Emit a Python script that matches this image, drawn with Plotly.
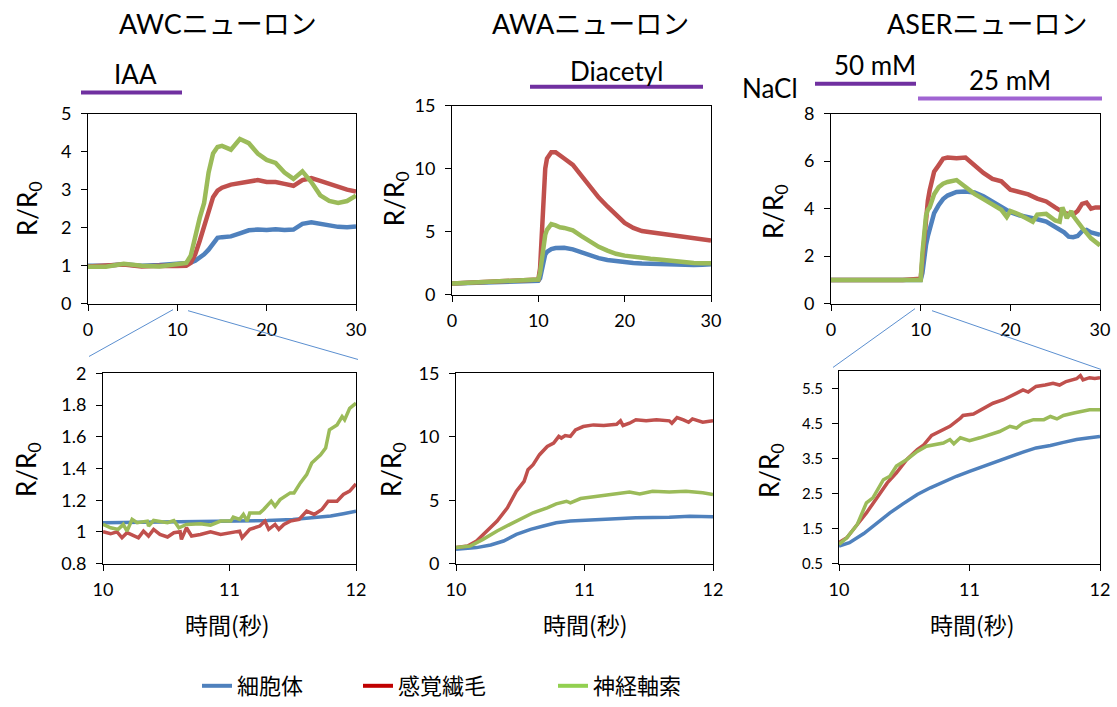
import plotly.graph_objects as go

W, H = 1117, 707

# ---------------- DATA ----------------
# AWC (0-30 s)
awc_t = [0, 2, 4, 6, 8, 10, 11, 11.5, 12, 12.5, 13, 13.5, 14, 14.5, 15, 16, 17, 18, 19, 20,
         21, 22, 23, 24, 25, 26, 27, 28, 29, 30]
awc_soma = [1.0, 1.0, 1.04, 1.0, 1.02, 1.05, 1.06, 1.08, 1.13, 1.2, 1.3, 1.42, 1.6, 1.73, 1.75,
            1.77, 1.85, 1.93, 1.95, 1.94, 1.96, 1.94, 1.95, 2.1, 2.14, 2.1, 2.05, 2.02, 2.01, 2.03]
awc_cilia = [0.98, 1.0, 1.03, 0.98, 1.0, 0.99, 1.0, 1.07, 1.3, 1.65, 2.05, 2.5, 2.8, 2.97, 3.05,
             3.13, 3.18, 3.22, 3.25, 3.2, 3.2, 3.15, 3.1, 3.25, 3.3, 3.23, 3.15, 3.08, 3.0, 2.95]
awc_axon = [0.97, 0.97, 1.05, 1.0, 0.98, 1.05, 1.07, 1.26, 1.8, 2.25, 2.65, 3.45, 3.95, 4.12, 4.15,
            4.05, 4.33, 4.22, 3.95, 3.78, 3.7, 3.45, 3.28, 3.48, 3.2, 2.85, 2.7, 2.65, 2.7, 2.84]

# AWA (0-30 s)
awa_t = [0, 2, 4, 6, 8, 10, 10.2, 10.4, 10.6, 10.8, 11, 11.5, 12, 12.5, 13, 14, 15, 16, 17, 18,
         19, 20, 21, 22, 23, 24, 25, 26, 27, 28, 29, 30]
awa_soma = [0.9, 0.95, 1.0, 1.03, 1.07, 1.1, 1.3, 2.0, 2.75, 3.2, 3.4, 3.62, 3.7, 3.72, 3.72, 3.6,
            3.35, 3.1, 2.9, 2.75, 2.65, 2.58, 2.52, 2.48, 2.45, 2.42, 2.38, 2.36, 2.35, 2.35, 2.38, 2.42]
awa_cilia = [0.9, 0.95, 1.0, 1.05, 1.1, 1.2, 2.1, 4.4, 7.8, 10.0, 10.8, 11.3, 11.3, 11.1, 10.8, 10.3,
             9.4, 8.5, 7.7, 7.0, 6.4, 5.7, 5.3, 5.05, 4.95, 4.85, 4.75, 4.65, 4.55, 4.5, 4.4, 4.3]
awa_axon = [0.9, 0.95, 1.0, 1.05, 1.1, 1.2, 1.75, 3.0, 4.0, 4.75, 5.15, 5.6, 5.5, 5.35, 5.3, 5.1,
            4.65, 4.2, 3.8, 3.5, 3.25, 3.1, 3.0, 2.95, 2.85, 2.8, 2.72, 2.65, 2.58, 2.52, 2.5, 2.5]

# ASER (0-30 s)
aser_soma_t = [0, 10, 10.2, 10.4, 10.6, 10.8, 11, 11.5, 12, 12.5, 13, 14, 15, 16, 17, 18, 19, 20,
               21, 22, 23, 24, 25, 26, 26.5, 27, 27.5, 28, 28.5, 29, 30]
aser_soma = [1.0, 1.0, 1.3, 1.95, 2.48, 2.84, 3.14, 3.81, 4.14, 4.4, 4.55, 4.7, 4.72, 4.68, 4.52,
             4.3, 4.1, 3.85, 3.72, 3.65, 3.55, 3.45, 3.25, 3.0, 2.82, 2.8, 2.85, 3.05, 3.1, 3.0, 2.9]
aser_cilia_t = [0, 2, 4, 6, 8, 10, 10.2, 10.4, 10.6, 10.8, 11, 11.5, 12, 12.5, 13, 14, 15, 16, 17,
                18, 19, 20, 21, 22, 23, 24, 25, 26, 26.5, 27, 27.5, 28, 28.5, 29, 29.5, 30]
aser_cilia = [1.0, 1.0, 1.0, 0.98, 1.0, 1.05, 1.85, 2.95, 3.76, 4.33, 4.76, 5.55, 5.82, 6.1, 6.15,
              6.12, 6.15, 5.8, 5.5, 5.25, 5.15, 4.8, 4.72, 4.6, 4.42, 4.3, 4.05, 3.82, 3.78, 3.75,
              3.9, 4.2, 4.25, 4.0, 4.05, 4.05]
aser_axon_t = [0, 2, 4, 6, 8, 10, 10.2, 10.4, 10.6, 10.8, 11, 11.5, 12, 12.5, 13, 14, 15, 16, 17,
               18, 19, 19.6, 20, 21, 22, 22.5, 23, 24, 25, 25.5, 25.8, 26.3, 26.8, 27, 28, 29, 30]
aser_axon = [1.0, 1.0, 1.0, 1.02, 1.0, 1.0, 2.15, 3.05, 3.71, 3.95, 4.05, 4.6, 4.9, 5.05, 5.12,
             5.2, 4.9, 4.62, 4.4, 4.15, 3.95, 3.65, 3.9, 3.75, 3.55, 3.45, 3.75, 3.78, 3.5, 3.45,
             4.05, 3.6, 3.9, 3.7, 3.2, 2.75, 2.45]

# AWC zoom (10-12 s)
awcz_soma_t = [10, 10.5, 11, 11.3, 11.5, 11.7, 11.8, 11.9, 12]
awcz_soma = [1.058, 1.062, 1.068, 1.072, 1.079, 1.09, 1.10, 1.115, 1.13]
awcz_cilia_t = [10.00, 10.06, 10.11, 10.15, 10.19, 10.24, 10.28, 10.32, 10.36, 10.40, 10.45, 10.51,
                10.56, 10.61, 10.62, 10.66, 10.70, 10.77, 10.85, 10.93, 11.01, 11.08, 11.10, 11.16,
                11.24, 11.28, 11.31, 11.36, 11.39, 11.43, 11.48, 11.55, 11.61, 11.67, 11.73, 11.78,
                11.85, 11.90, 11.95, 12.00]
awcz_cilia = [1.001, 0.988, 1.001, 0.963, 0.995, 0.980, 0.963, 1.005, 0.974, 1.016, 0.984, 0.968,
              0.995, 1.001, 0.953, 1.026, 0.974, 0.984, 1.001, 0.984, 0.995, 1.005, 0.963, 1.016,
              1.037, 1.068, 1.016, 1.047, 1.016, 1.047, 1.068, 1.079, 1.131, 1.110, 1.141, 1.194,
              1.194, 1.236, 1.257, 1.303]
awcz_axon_t = [10.00, 10.06, 10.12, 10.16, 10.19, 10.23, 10.27, 10.35, 10.36, 10.40, 10.51, 10.56,
               10.60, 10.66, 10.77, 10.85, 10.93, 11.01, 11.03, 11.08, 11.11, 11.14, 11.16, 11.24,
               11.27, 11.33, 11.36, 11.40, 11.48, 11.51, 11.56, 11.61, 11.65, 11.72, 11.76, 11.79,
               11.85, 11.89, 11.91, 11.95, 12.00]
awcz_axon = [1.047, 1.026, 1.016, 1.047, 1.005, 1.079, 1.058, 1.068, 1.037, 1.072, 1.058, 1.072,
             1.026, 1.047, 1.051, 1.043, 1.068, 1.068, 1.093, 1.079, 1.110, 1.068, 1.120, 1.120,
             1.141, 1.194, 1.162, 1.204, 1.246, 1.246, 1.309, 1.361, 1.435, 1.487, 1.529, 1.644,
             1.675, 1.728, 1.707, 1.780, 1.812]

# AWA zoom (10-12 s)
awaz_soma_t = [10.00, 10.16, 10.27, 10.37, 10.47, 10.58, 10.68, 10.78, 10.89, 11.02, 11.20, 11.40,
               11.66, 11.82, 12.00]
awaz_soma = [1.13, 1.26, 1.47, 1.78, 2.30, 2.70, 2.96, 3.22, 3.35, 3.43, 3.53, 3.61, 3.66, 3.74, 3.69]
awaz_cilia_t = [10.00, 10.09, 10.16, 10.24, 10.32, 10.40, 10.47, 10.53, 10.56, 10.60, 10.65, 10.71,
                10.76, 10.80, 10.82, 10.85, 10.89, 10.93, 10.99, 11.07, 11.15, 11.25, 11.28, 11.30,
                11.35, 11.40, 11.48, 11.56, 11.66, 11.68, 11.72, 11.77, 11.81, 11.84, 11.90, 11.92,
                12.00]
awaz_cilia = [1.26, 1.39, 1.78, 2.57, 3.35, 4.40, 5.71, 6.49, 7.41, 7.80, 8.59, 9.24, 9.50, 10.03,
              9.90, 10.10, 10.03, 10.55, 10.81, 10.94, 10.89, 10.99, 11.26, 10.89, 11.07, 11.34,
              11.26, 11.34, 11.26, 11.07, 11.52, 11.34, 11.15, 11.41, 11.26, 11.15, 11.26]
awaz_axon_t = [10.00, 10.11, 10.21, 10.32, 10.42, 10.53, 10.60, 10.71, 10.78, 10.86, 10.89, 10.97,
               11.09, 11.20, 11.35, 11.43, 11.53, 11.66, 11.79, 11.92, 12.00]
awaz_axon = [1.26, 1.39, 1.91, 2.57, 3.09, 3.61, 4.01, 4.40, 4.71, 4.92, 4.79, 5.13, 5.31, 5.45,
             5.65, 5.50, 5.71, 5.65, 5.71, 5.58, 5.45]

# ASER zoom (10-12 s)
aserz_soma_t = [10.00, 10.08, 10.19, 10.29, 10.39, 10.49, 10.60, 10.70, 10.80, 10.90, 11.00, 11.11,
                11.21, 11.31, 11.41, 11.51, 11.62, 11.72, 11.82, 11.92, 12.00]
aserz_soma = [1.00, 1.10, 1.36, 1.67, 1.95, 2.21, 2.48, 2.67, 2.84, 3.00, 3.14, 3.29, 3.43, 3.57,
              3.69, 3.81, 3.88, 3.97, 4.05, 4.10, 4.14]
aserz_cilia_t = [10.00, 10.06, 10.14, 10.21, 10.29, 10.37, 10.44, 10.52, 10.60, 10.65, 10.71, 10.77,
                 10.85, 10.93, 10.95, 11.03, 11.11, 11.18, 11.26, 11.31, 11.36, 11.41, 11.45, 11.51,
                 11.58, 11.64, 11.69, 11.74, 11.82, 11.85, 11.87, 11.92, 11.96, 12.00]
aserz_cilia = [1.10, 1.24, 1.62, 1.95, 2.38, 2.81, 3.10, 3.48, 3.76, 3.90, 4.17, 4.28, 4.43, 4.66,
               4.74, 4.78, 4.95, 5.09, 5.19, 5.28, 5.38, 5.47, 5.41, 5.57, 5.61, 5.66, 5.61, 5.71,
               5.79, 5.88, 5.76, 5.82, 5.80, 5.82]
aserz_axon_t = [10.00, 10.06, 10.14, 10.21, 10.26, 10.34, 10.39, 10.44, 10.52, 10.60, 10.67, 10.72,
                10.80, 10.85, 10.88, 10.93, 11.00, 11.08, 11.16, 11.23, 11.31, 11.36, 11.41, 11.49,
                11.57, 11.62, 11.67, 11.72, 11.80, 11.87, 11.92, 12.00]
aserz_axon = [1.05, 1.24, 1.62, 2.24, 2.38, 2.90, 3.00, 3.29, 3.48, 3.71, 3.86, 3.90, 3.95, 4.05,
              3.93, 4.10, 4.02, 4.10, 4.21, 4.28, 4.43, 4.38, 4.52, 4.62, 4.62, 4.71, 4.64, 4.74,
              4.81, 4.85, 4.90, 4.90]

series_names = ["細胞体", "感覚繊毛", "神経軸索"]
panel_titles = ["AWCニューロン", "AWAニューロン", "ASERニューロン"]
x_title = "時間(秒)"
y_title = "R/R<sub>0</sub>"

# ---------------- STYLE ----------------
C_LINE = ["#4F81BD", "#C0504D", "#9BBB59"]
C_LEG = ["#4F81BD", "#C00000", "#92D050"]
FONT = "Lato, 'Noto Sans CJK JP', sans-serif"
CJK = "'Noto Sans CJK JP', sans-serif"


def fx(px):
    return px / W


def fy(py):
    return 1 - py / H


fig = go.Figure()

panels = [
    ("", [(awc_t, awc_soma), (awc_t, awc_cilia), (awc_t, awc_axon)], 4.5),
    ("2", [(awa_t, awa_soma), (awa_t, awa_cilia), (awa_t, awa_axon)], 4.5),
    ("3", [(aser_soma_t, aser_soma), (aser_cilia_t, aser_cilia), (aser_axon_t, aser_axon)], 4.5),
    ("4", [(awcz_soma_t, awcz_soma), (awcz_cilia_t, awcz_cilia), (awcz_axon_t, awcz_axon)], 3.5),
    ("5", [(awaz_soma_t, awaz_soma), (awaz_cilia_t, awaz_cilia), (awaz_axon_t, awaz_axon)], 3.5),
    ("6", [(aserz_soma_t, aserz_soma), (aserz_cilia_t, aserz_cilia), (aserz_axon_t, aserz_axon)], 3.5),
]
for suf, trs, lw in panels:
    for i, (tx, ty) in enumerate(trs):
        fig.add_trace(go.Scatter(x=tx, y=ty, mode="lines", xaxis="x" + suf, yaxis="y" + suf,
                                 line=dict(color=C_LINE[i], width=lw), showlegend=False,
                                 hoverinfo="skip"))

leg_ids = ["legend", "legend2", "legend3"]
for i, nm in enumerate(series_names):
    fig.add_trace(go.Scatter(x=[None], y=[None], mode="lines", name=nm,
                             line=dict(color=C_LEG[i], width=4), legend=leg_ids[i],
                             xaxis="x", yaxis="y"))

boxes = [(88, 356, 114, 305), (452, 711, 106, 296), (831, 1100, 114, 305),
         (103, 356, 375, 566), (456, 713, 375, 566), (839, 1100, 373, 566)]
xranges = [[0, 30], [0, 30], [0, 30], [10, 12], [10, 12], [10, 12]]
yranges = [[0, 5], [0, 15], [0, 8], [0.8, 2], [0, 15], [0.5, 6]]
xticks = [[0, 10, 20, 30]] * 3 + [[10, 11, 12]] * 3
yticks = [[0, 1, 2, 3, 4, 5], [0, 5, 10, 15], [0, 2, 4, 6, 8],
          [0.8, 1, 1.2, 1.4, 1.6, 1.8, 2], [0, 5, 10, 15], [0.5, 1.5, 2.5, 3.5, 4.5, 5.5]]
ytext = [None, None, None, ["0.8", "1", "1.2", "1.4", "1.6", "1.8", "2"], None,
         ["0.5", "1.5", "2.5", "3.5", "4.5", "5.5"]]
yfont = [18, 18, 18, 18, 18, 15]

common = dict(showline=True, linecolor="black", linewidth=1, mirror=True, ticks="outside",
              ticklen=6, tickcolor="black", tickwidth=1, showgrid=False, zeroline=False,
              automargin=False, fixedrange=True)
for k, (l, r, t, b) in enumerate(boxes):
    suf = "" if k == 0 else str(k + 1)
    fig.layout["xaxis" + suf] = dict(
        common, domain=[fx(l), fx(r)], range=xranges[k], tickvals=xticks[k],
        anchor="y" + suf, tickfont=dict(size=18, color="black", family=FONT), ticklabelstandoff=4)
    yax = dict(common, domain=[fy(b), fy(t)], range=yranges[k], tickvals=yticks[k],
               anchor="x" + suf, tickfont=dict(size=yfont[k], color="black", family=FONT),
               ticklabelstandoff=6)
    if ytext[k] is not None:
        yax["ticktext"] = ytext[k]
    fig.layout["yaxis" + suf] = yax

ann = []
for txt, cx in zip(panel_titles, [218, 590, 987]):
    ann.append(dict(text=txt, x=fx(cx), y=fy(24), xref="paper", yref="paper", showarrow=False,
                    xanchor="center", yanchor="middle", font=dict(size=27, family=FONT, color="black")))
for txt, cx, cy in [("IAA", 135, 74), ("Diacetyl", 616, 71), ("NaCl", 770, 88),
                    ("50 mM", 875, 65), ("25 mM", 1010, 80)]:
    ann.append(dict(text=txt, x=fx(cx), y=fy(cy), xref="paper", yref="paper", showarrow=False,
                    xanchor="center", yanchor="middle", font=dict(size=26, family=FONT, color="black")))
for cx, cy in [(28, 210), (395, 200), (774, 212), (28, 472), (393, 472), (771, 473)]:
    ann.append(dict(text=y_title, x=fx(cx), y=fy(cy), xref="paper", yref="paper", showarrow=False,
                    textangle=-90, xanchor="center", yanchor="middle",
                    font=dict(size=26, family=FONT, color="black")))
for cx in [227, 585, 972]:
    ann.append(dict(text=x_title, x=fx(cx), y=fy(627), xref="paper", yref="paper", showarrow=False,
                    xanchor="center", yanchor="middle", font=dict(size=23, family=CJK, color="black")))

shapes = []
for x0, x1, yy, col in [(81, 182, 93, "#7030A0"), (530, 703, 87, "#7030A0"),
                        (815, 916, 84, "#7030A0"), (918, 1102, 99, "#A064D2")]:
    shapes.append(dict(type="line", xref="paper", yref="paper", x0=fx(x0), x1=fx(x1),
                       y0=fy(yy), y1=fy(yy), line=dict(color=col, width=4)))
for x0, y0, x1, y1 in [(173, 311, 89, 358), (188, 312, 358, 361),
                       (915, 310, 833, 369), (932, 312, 1101, 371)]:
    shapes.append(dict(type="line", xref="paper", yref="paper", x0=fx(x0), y0=fy(y0),
                       x1=fx(x1), y1=fy(y1), line=dict(color="#5B8FD0", width=1)))

legkw = dict(orientation="h", yanchor="middle", xanchor="left", y=fy(689),
             font=dict(size=22, family=CJK, color="black"), bgcolor="rgba(0,0,0,0)",
             borderwidth=0)

fig.update_layout(
    width=W, height=H, margin=dict(l=0, r=0, t=0, b=0),
    paper_bgcolor="white", plot_bgcolor="white",
    font=dict(family=FONT, color="black"),
    annotations=ann, shapes=shapes,
    legend=dict(legkw, x=fx(197)),
    legend2=dict(legkw, x=fx(358)),
    legend3=dict(legkw, x=fx(553)),
)

fig.write_html("out.html", config={"displayModeBar": False},
               post_script="document.body.style.margin='0';document.body.style.overflow='hidden';")
